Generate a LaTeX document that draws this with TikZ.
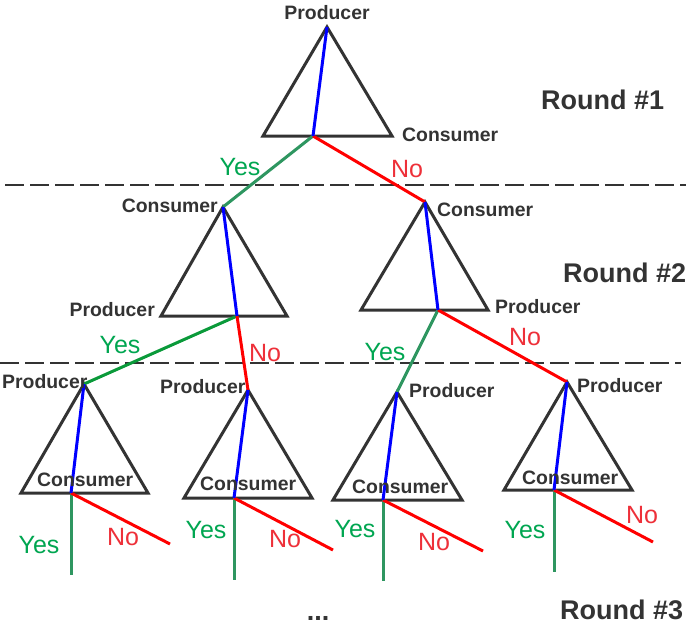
\documentclass[tikz,border=0pt]{standalone}
\usepackage{fontspec}
\setmainfont{Liberation Sans}
\definecolor{tgray}{HTML}{333333}
\definecolor{ygreen}{HTML}{00A651}
\definecolor{lgreen}{HTML}{2E9660}
\definecolor{lgreenb}{HTML}{0A9A3A}
\definecolor{nred}{HTML}{EE3039}
\begin{document}
\begin{tikzpicture}[x=1pt,y=-1pt,
  tri/.style={draw=tgray,line width=3pt,line join=miter},
  blueln/.style={draw=blue,line width=3pt},
  yesln/.style={draw=lgreen,line width=3pt},
  yeslnb/.style={draw=lgreenb,line width=3pt},
  noln/.style={draw=red,line width=3pt},
  sep/.style={draw=tgray,line width=2.2pt,dash pattern=on 19pt off 6pt},
  lbl/.style={inner sep=0pt,text=tgray,font=\fontsize{19.4}{20}\selectfont\bfseries},
  yes/.style={inner sep=0pt,text=ygreen,font=\fontsize{25}{26}\selectfont},
  no/.style={inner sep=0pt,text=nred,font=\fontsize{25}{26}\selectfont},
  rnd/.style={inner sep=0pt,text=tgray,font=\fontsize{27}{28}\selectfont\bfseries}]
\useasboundingbox (0,0) rectangle (691,626);
\fill[white] (0,0) rectangle (691,626);

% separators
\coordinate (s1a) at (5,185); \coordinate (s1b) at (686,185);
\coordinate (s2a) at (0,363); \coordinate (s2b) at (681,363);
\draw[sep] (s1a) -- (s1b);
\draw[sep] (s2a) -- (s2b);

% ---- triangle coordinates
% T1
\coordinate (t1a) at (327,27); \coordinate (t1l) at (263,136); \coordinate (t1r) at (392,136); \coordinate (t1b) at (313,136);
% T2L
\coordinate (t2a) at (223,207); \coordinate (t2l) at (161,316); \coordinate (t2r) at (287,316); \coordinate (t2b) at (237,316);
% T2R
\coordinate (t3a) at (425,202); \coordinate (t3l) at (361,310); \coordinate (t3r) at (488,310); \coordinate (t3b) at (438,310);
% row 3
\coordinate (ua) at (84,384);  \coordinate (ul) at (21,493);  \coordinate (ur) at (148,493); \coordinate (ub) at (71,493);
\coordinate (va) at (248,390); \coordinate (vl) at (184,498); \coordinate (vr) at (312,498); \coordinate (vb) at (234,498);
\coordinate (wa) at (397,392); \coordinate (wl) at (333,500); \coordinate (wr) at (462,500); \coordinate (wb) at (383,500);
\coordinate (za) at (567,382); \coordinate (zl) at (504,490); \coordinate (zr) at (632,490); \coordinate (zb) at (554,490);
% free ends
\coordinate (uy) at (71,575);  \coordinate (un) at (170,544);
\coordinate (vy) at (234,580); \coordinate (vn) at (333,550);
\coordinate (wy) at (383,581); \coordinate (wn) at (483,551);
\coordinate (zy) at (554,572); \coordinate (zn) at (653,542);

% triangles
\foreach \t in {t1,t2,t3,u,v,w,z}{
  \draw[tri] (\t a) -- (\t r) -- (\t l) -- cycle;
}

% branch lines
\draw[yesln] (t1b) -- (t2a);
\draw[noln] (t1b) -- (t3a);
\draw[yeslnb] (t2b) -- (ua);
\draw[noln] (t2b) -- (va);
\draw[yesln] (t3b) -- (wa);
\draw[noln] (t3b) -- (za);
\foreach \t in {u,v,w,z}{
  \draw[yesln] (\t b) -- (\t y);
  \draw[noln] (\t b) -- (\t n);
}
% blue lines
\foreach \t in {t1,t2,t3,u,v,w,z}{
  \draw[blueln] (\t a) -- (\t b);
}

% labels
\node[lbl,anchor=base] (p1) at (327,20) {Producer};
\node[lbl,anchor=base west] (c1) at (402,141) {Consumer};
\node[yes,anchor=base] (y1) at (240,175) {Yes};
\node[no,anchor=base] (n1) at (407,177) {No};
\node[rnd,anchor=base west] (r1) at (541,110) {Round \#1};

\node[lbl,anchor=base east] (c2) at (218,212) {Consumer};
\node[lbl,anchor=base east] (p2) at (155,316) {Producer};
\node[yes,anchor=base] (y2) at (120,353) {Yes};
\node[no,anchor=base] (n2) at (265,361) {No};
\node[lbl,anchor=base west] (c3) at (437,216) {Consumer};
\node[lbl,anchor=base west] (p3) at (495,313) {Producer};
\node[yes,anchor=base] (y3) at (385,360) {Yes};
\node[no,anchor=base] (n3) at (525,345) {No};
\node[rnd,anchor=base west] (r2) at (563,282) {Round \#2};

\node[lbl,anchor=base west] (pu) at (2,388) {Producer};
\node[lbl,anchor=base west] (pv) at (160,393) {Producer};
\node[lbl,anchor=base west] (pw) at (409,397) {Producer};
\node[lbl,anchor=base west] (pz) at (577,392) {Producer};
\node[lbl,anchor=base west] (cu) at (37,486) {Consumer};
\node[lbl,anchor=base west] (cv) at (200,490) {Consumer};
\node[lbl,anchor=base west] (cw) at (352,493) {Consumer};
\node[lbl,anchor=base west] (cz) at (522,484) {Consumer};
\node[yes,anchor=base] (yu) at (39,553) {Yes};
\node[no,anchor=base] (nu) at (123,545) {No};
\node[yes,anchor=base] (yv) at (206,538) {Yes};
\node[no,anchor=base] (nv) at (285,547) {No};
\node[yes,anchor=base] (yw) at (355,537) {Yes};
\node[no,anchor=base] (nw) at (434,550) {No};
\node[yes,anchor=base] (yz) at (525,538) {Yes};
\node[no,anchor=base] (nz) at (642,523) {No};
\node[rnd,anchor=base west] (r3) at (560,619) {Round \#3};
\node[rnd,anchor=base,text depth=0pt] (dots) at (318,620) {...};
\end{tikzpicture}
\end{document}
